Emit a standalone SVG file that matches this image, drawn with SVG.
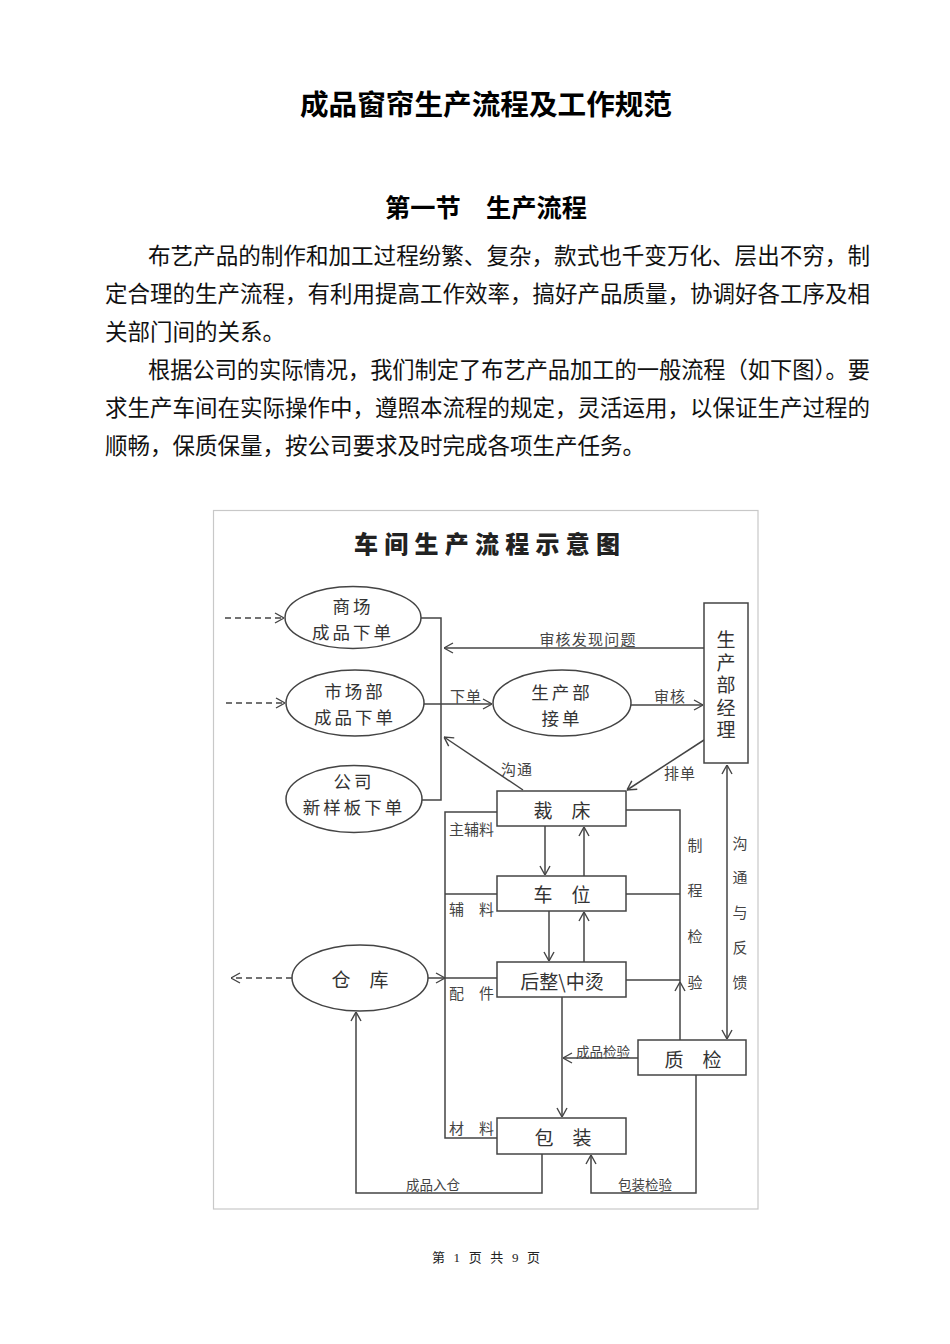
<svg xmlns="http://www.w3.org/2000/svg" width="950" height="1344" viewBox="0 0 950 1344">
<defs>
<style>
text{font-family:"Noto Sans CJK SC","Noto Sans",sans-serif;dominant-baseline:central;}
.h1{font-size:28px;font-weight:bold;fill:#000;}
.h2{font-size:25px;font-weight:bold;fill:#000;}
.p{font-size:22.5px;fill:#111;}
.ft{font-family:"Liberation Serif","Noto Sans CJK SC",serif;font-size:13px;fill:#222;}
.dt{font-size:24px;font-weight:900;fill:#222;}
.n{font-size:19px;fill:#333;text-anchor:middle;}
.e{font-size:17.5px;fill:#333;text-anchor:middle;letter-spacing:3px;}
.v{font-size:19px;fill:#333;writing-mode:tb;}
.l{font-size:15px;fill:#444;}
.vl{font-size:15px;fill:#444;writing-mode:tb;}
.s{font-size:13.5px;fill:#444;text-anchor:middle;}
.shape{fill:#fff;stroke:#444;stroke-width:1.5;}
.c{fill:none;stroke:#444;stroke-width:1.5;}
.d{fill:none;stroke:#444;stroke-width:1.3;stroke-dasharray:6,4;}
</style>
<marker id="a" viewBox="0 0 10 12" refX="10" refY="6" markerWidth="10" markerHeight="12" markerUnits="userSpaceOnUse" orient="auto">
<path d="M1,1 L10,6 L1,11" fill="none" stroke="#444" stroke-width="1.4"/>
</marker>
<marker id="as" viewBox="0 0 10 12" refX="0" refY="6" markerWidth="10" markerHeight="12" markerUnits="userSpaceOnUse" orient="auto">
<path d="M9,1 L0,6 L9,11" fill="none" stroke="#444" stroke-width="1.4"/>
</marker>
</defs>
<rect width="950" height="1344" fill="#fff"/>

<g id="page-text">
<text class="h1" x="300" y="103" textLength="372" lengthAdjust="spacingAndGlyphs">成品窗帘生产流程及工作规范</text>
<text class="h2" x="385" y="206" textLength="202" lengthAdjust="spacingAndGlyphs">第一节　生产流程</text>
<text class="p" x="148" y="254" textLength="722" lengthAdjust="spacingAndGlyphs">布艺产品的制作和加工过程纷繁、复杂，款式也千变万化、层出不穷，制</text>
<text class="p" x="105" y="292" textLength="765" lengthAdjust="spacingAndGlyphs">定合理的生产流程，有利用提高工作效率，搞好产品质量，协调好各工序及相</text>
<text class="p" x="105" y="330">关部门间的关系。</text>
<text class="p" x="148" y="368" textLength="722" lengthAdjust="spacingAndGlyphs">根据公司的实际情况，我们制定了布艺产品加工的一般流程（如下图）。要</text>
<text class="p" x="105" y="406" textLength="765" lengthAdjust="spacingAndGlyphs">求生产车间在实际操作中，遵照本流程的规定，灵活运用，以保证生产过程的</text>
<text class="p" x="105" y="444">顺畅，保质保量，按公司要求及时完成各项生产任务。</text>
<text class="ft" x="432" y="1257" textLength="108" lengthAdjust="spacing">第 1 页 共 9 页</text>
</g>

<rect x="213.5" y="510.5" width="544.5" height="698.5" fill="none" stroke="#c8c8c8" stroke-width="1.2"/>
<text class="dt" x="354" y="542" textLength="266" lengthAdjust="spacing">车间生产流程示意图</text>

<g id="connectors">
<line class="d" x1="225" y1="618" x2="284" y2="618" marker-end="url(#a)"/>
<line class="d" x1="226" y1="703" x2="285" y2="703" marker-end="url(#a)"/>
<line class="d" x1="292" y1="978" x2="231" y2="978" marker-end="url(#a)"/>
<polyline class="c" points="421,618 441,618 441,800 422,800"/>
<line class="c" x1="424" y1="704" x2="492" y2="704" marker-end="url(#a)"/>
<line class="c" x1="631" y1="705" x2="703" y2="705" marker-end="url(#a)"/>
<line class="c" x1="704" y1="648" x2="444" y2="648" marker-end="url(#a)"/>
<line class="c" x1="523" y1="790" x2="444" y2="737" marker-end="url(#a)"/>
<line class="c" x1="704" y1="740" x2="627" y2="790" marker-end="url(#a)"/>
<line class="c" x1="727" y1="765" x2="727" y2="1039" marker-start="url(#as)" marker-end="url(#a)"/>
<polyline class="c" points="626,810 680,810 680,982"/>
<line class="c" x1="680" y1="1040" x2="680" y2="982" marker-end="url(#a)"/>
<line class="c" x1="626" y1="894" x2="680" y2="894"/>
<line class="c" x1="626" y1="980" x2="680" y2="980"/>
<line class="c" x1="545" y1="826" x2="545" y2="875" marker-end="url(#a)"/>
<line class="c" x1="584" y1="876" x2="584" y2="827" marker-end="url(#a)"/>
<line class="c" x1="549" y1="911" x2="549" y2="961" marker-end="url(#a)"/>
<line class="c" x1="584" y1="962" x2="584" y2="912" marker-end="url(#a)"/>
<line class="c" x1="562" y1="997" x2="562" y2="1117" marker-end="url(#a)"/>
<line class="c" x1="638" y1="1058" x2="563" y2="1058" marker-end="url(#a)"/>
<polyline class="c" points="497,812 445,812 445,1138 497,1138"/>
<line class="c" x1="445" y1="894" x2="497" y2="894"/>
<line class="c" x1="445" y1="978" x2="497" y2="978"/>
<line class="c" x1="428" y1="978" x2="445" y2="978" marker-end="url(#a)"/>
<polyline class="c" points="542,1154 542,1193 356,1193 356,1012" marker-end="url(#a)"/>
<polyline class="c" points="696,1075 696,1193 591,1193 591,1155" marker-end="url(#a)"/>
</g>

<g id="connector-labels">
<text class="l" x="466" y="695" text-anchor="middle" letter-spacing="1">下单</text>
<text class="l" x="670" y="695" text-anchor="middle" letter-spacing="1">审核</text>
<text class="l" x="588" y="638" text-anchor="middle" letter-spacing="1.2">审核发现问题</text>
<text class="l" x="517" y="768" text-anchor="middle" letter-spacing="1">沟通</text>
<text class="l" x="680" y="772" text-anchor="middle" letter-spacing="1">排单</text>
<text class="l" x="449" y="828">主辅料</text>
<text class="l" x="449" y="908">辅　料</text>
<text class="l" x="449" y="992">配　件</text>
<text class="l" x="449" y="1127">材　料</text>
<text class="vl" x="695" y="837.5" letter-spacing="30.7">制程检验</text>
<text class="vl" x="740" y="835.5" letter-spacing="19.75">沟通与反馈</text>
<text class="s" x="603" y="1051">成品检验</text>
<text class="s" x="433" y="1184">成品入仓</text>
<text class="s" x="645" y="1184">包装检验</text>
</g>

<g id="node-shangchang">
<ellipse class="shape" cx="353" cy="617.5" rx="68" ry="31"/>
<text class="e"><tspan x="353" y="604.5">商场</tspan><tspan x="353" y="630.5">成品下单</tspan></text>
</g>
<g id="node-shichangbu">
<ellipse class="shape" cx="355" cy="703" rx="69" ry="33"/>
<text class="e"><tspan x="355" y="690">市场部</tspan><tspan x="355" y="716">成品下单</tspan></text>
</g>
<g id="node-gongsi">
<ellipse class="shape" cx="354" cy="799" rx="68" ry="33.5"/>
<text class="e"><tspan x="354" y="780">公司</tspan><tspan x="354" y="806">新样板下单</tspan></text>
</g>
<g id="node-jiedan">
<ellipse class="shape" cx="562" cy="703" rx="69" ry="33"/>
<text class="e"><tspan x="562" y="690.5">生产部</tspan><tspan x="562" y="716.5">接单</tspan></text>
</g>
<g id="node-jingli">
<rect class="shape" x="704" y="603" width="44" height="160"/>
<text class="v" x="726" y="630.5" letter-spacing="3.5">生产部经理</text>
</g>
<g id="node-caichuang">
<rect class="shape" x="497" y="791" width="129" height="35"/>
<text class="n" x="562" y="809">裁　床</text>
</g>
<g id="node-chewei">
<rect class="shape" x="497" y="876" width="129" height="35"/>
<text class="n" x="562" y="893">车　位</text>
</g>
<g id="node-houzheng">
<rect class="shape" x="497" y="962" width="129" height="35"/>
<text class="n" x="562" y="980">后整\中烫</text>
</g>
<g id="node-zhijian">
<rect class="shape" x="638" y="1040" width="108" height="35"/>
<text class="n" x="693" y="1058">质　检</text>
</g>
<g id="node-baozhuang">
<rect class="shape" x="497" y="1118" width="129" height="36"/>
<text class="n" x="563" y="1136">包　装</text>
</g>
<g id="node-cangku">
<ellipse class="shape" cx="360" cy="978" rx="68" ry="33"/>
<text class="n" x="360" y="978">仓　库</text>
</g>
</svg>
